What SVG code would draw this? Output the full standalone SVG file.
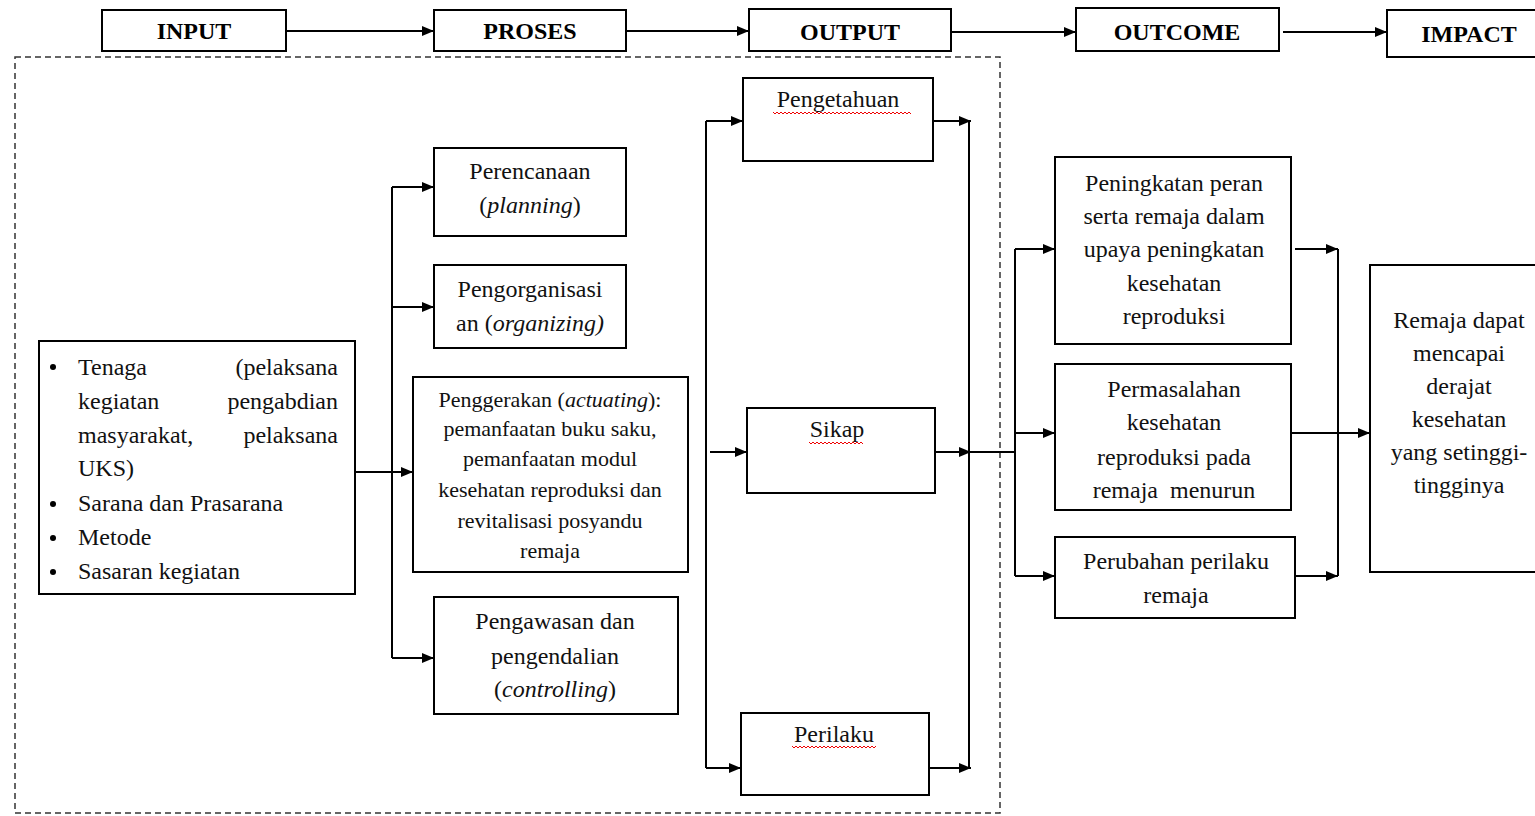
<svg xmlns="http://www.w3.org/2000/svg" width="1535" height="816" viewBox="0 0 1535 816">
<defs>
<marker id="ah" markerUnits="userSpaceOnUse" markerWidth="14" markerHeight="12" refX="12" refY="5" orient="auto">
<path d="M0,0 L12,5 L0,10 z" fill="#000"/>
</marker>
<style>
.box{fill:#fff;stroke:#000;stroke-width:2}
.hd{font-family:"Liberation Serif",serif;font-weight:bold;font-size:24px;text-anchor:middle;fill:#000}
.t{font-family:"Liberation Serif",serif;font-size:24px;fill:#111}
.c{text-anchor:middle}
.sm{font-size:22px}
.e{text-anchor:end}
.con path{fill:none;stroke:#000;stroke-width:2}
.arr{marker-end:url(#ah)}
.sp{fill:none;stroke:#e00;stroke-width:1}
</style>
</defs>
<rect width="1535" height="816" fill="#fff"/>
<rect x="15" y="57" width="985" height="756" fill="none" stroke="#333" stroke-width="1.5" stroke-dasharray="6 4"/>

<g id="h-input"><rect class="box" x="102" y="10" width="184" height="41"/><text class="hd" x="194" y="39">INPUT</text></g>
<g id="h-proses"><rect class="box" x="434" y="10" width="192" height="41"/><text class="hd" x="530" y="39">PROSES</text></g>
<g id="h-output"><rect class="box" x="749" y="9" width="202" height="42"/><text class="hd" x="850" y="40">OUTPUT</text></g>
<g id="h-outcome"><rect class="box" x="1076" y="8" width="203" height="43"/><text class="hd" x="1177" y="40">OUTCOME</text></g>
<g id="h-impact"><rect class="box" x="1387" y="10" width="155" height="47"/><text class="hd" x="1469" y="42">IMPACT</text></g>

<g id="input">
<rect class="box" x="39" y="341" width="316" height="253"/>
<circle cx="53" cy="367" r="3"/><circle cx="53" cy="504" r="3"/><circle cx="53" cy="538" r="3"/><circle cx="53" cy="572" r="3"/>
<text class="t" x="78" y="375">Tenaga</text><text class="t e" x="338" y="375">(pelaksana</text>
<text class="t" x="78" y="409">kegiatan</text><text class="t e" x="338" y="409">pengabdian</text>
<text class="t" x="78" y="443">masyarakat,</text><text class="t e" x="338" y="443">pelaksana</text>
<text class="t" x="78" y="476">UKS)</text>
<text class="t" x="78" y="511">Sarana dan Prasarana</text>
<text class="t" x="78" y="545">Metode</text>
<text class="t" x="78" y="579">Sasaran kegiatan</text>
</g>

<g id="p-planning"><rect class="box" x="434" y="148" width="192" height="88"/>
<text class="t c" x="530" y="179">Perencanaan</text>
<text class="t c" x="530" y="213">(<tspan font-style="italic">planning</tspan>)</text></g>
<g id="p-organizing"><rect class="box" x="434" y="265" width="192" height="83"/>
<text class="t c" x="530" y="297">Pengorganisasi</text>
<text class="t c" x="530" y="331">an (<tspan font-style="italic">organizing)</tspan></text></g>
<g id="p-actuating"><rect class="box" x="413" y="377" width="275" height="195"/>
<text class="t c sm" x="550" y="407">Penggerakan (<tspan font-style="italic">actuating</tspan>):</text>
<text class="t c sm" x="550" y="436">pemanfaatan buku saku,</text>
<text class="t c sm" x="550" y="466">pemanfaatan modul</text>
<text class="t c sm" x="550" y="497">kesehatan reproduksi dan</text>
<text class="t c sm" x="550" y="528">revitalisasi posyandu</text>
<text class="t c sm" x="550" y="558">remaja</text></g>
<g id="p-controlling"><rect class="box" x="434" y="597" width="244" height="117"/>
<text class="t c" x="555" y="629">Pengawasan dan</text>
<text class="t c" x="555" y="664">pengendalian</text>
<text class="t c" x="555" y="697">(<tspan font-style="italic">controlling</tspan>)</text></g>

<g id="o-pengetahuan"><rect class="box" x="743" y="78" width="190" height="83"/>
<text class="t c" x="838" y="107">Pengetahuan</text>
<path class="sp" d="M773,112 l2,2 l2,-2 l2,2 l2,-2 l2,2 l2,-2 l2,2 l2,-2 l2,2 l2,-2 l2,2 l2,-2 l2,2 l2,-2 l2,2 l2,-2 l2,2 l2,-2 l2,2 l2,-2 l2,2 l2,-2 l2,2 l2,-2 l2,2 l2,-2 l2,2 l2,-2 l2,2 l2,-2 l2,2 l2,-2 l2,2 l2,-2 l2,2 l2,-2 l2,2 l2,-2 l2,2 l2,-2 l2,2 l2,-2 l2,2 l2,-2 l2,2 l2,-2 l2,2 l2,-2 l2,2 l2,-2 l2,2 l2,-2 l2,2 l2,-2 l2,2 l2,-2 l2,2 l2,-2 l2,2 l2,-2 l2,2 l2,-2 l2,2 l2,-2 l2,2 l2,-2 l2,2 l2,-2 l2,2"/></g>
<g id="o-sikap"><rect class="box" x="747" y="408" width="188" height="85"/>
<text class="t c" x="837" y="437">Sikap</text>
<path class="sp" d="M809,442 l2,2 l2,-2 l2,2 l2,-2 l2,2 l2,-2 l2,2 l2,-2 l2,2 l2,-2 l2,2 l2,-2 l2,2 l2,-2 l2,2 l2,-2 l2,2 l2,-2 l2,2 l2,-2 l2,2 l2,-2 l2,2 l2,-2 l2,2 l2,-2 l2,2"/></g>
<g id="o-perilaku"><rect class="box" x="741" y="713" width="188" height="82"/>
<text class="t c" x="834" y="742">Perilaku</text>
<path class="sp" d="M792,746 l2,2 l2,-2 l2,2 l2,-2 l2,2 l2,-2 l2,2 l2,-2 l2,2 l2,-2 l2,2 l2,-2 l2,2 l2,-2 l2,2 l2,-2 l2,2 l2,-2 l2,2 l2,-2 l2,2 l2,-2 l2,2 l2,-2 l2,2 l2,-2 l2,2 l2,-2 l2,2 l2,-2 l2,2 l2,-2 l2,2 l2,-2 l2,2 l2,-2 l2,2 l2,-2 l2,2 l2,-2 l2,2 l2,-2"/></g>

<g id="oc-peran"><rect class="box" x="1055" y="157" width="236" height="187"/>
<text class="t c" x="1174" y="191">Peningkatan peran</text>
<text class="t c" x="1174" y="224">serta remaja dalam</text>
<text class="t c" x="1174" y="257">upaya peningkatan</text>
<text class="t c" x="1174" y="291">kesehatan</text>
<text class="t c" x="1174" y="324">reproduksi</text></g>
<g id="oc-masalah"><rect class="box" x="1055" y="364" width="236" height="146"/>
<text class="t c" x="1174" y="397">Permasalahan</text>
<text class="t c" x="1174" y="430">kesehatan</text>
<text class="t c" x="1174" y="465">reproduksi pada</text>
<text class="t c" x="1174" y="498" xml:space="preserve">remaja  menurun</text></g>
<g id="oc-perilaku"><rect class="box" x="1055" y="537" width="240" height="81"/>
<text class="t c" x="1176" y="569">Perubahan perilaku</text>
<text class="t c" x="1176" y="603">remaja</text></g>

<g id="impact"><rect class="box" x="1370" y="265" width="172" height="307"/>
<text class="t c" x="1459" y="328">Remaja dapat</text>
<text class="t c" x="1459" y="361">mencapai</text>
<text class="t c" x="1459" y="394">derajat</text>
<text class="t c" x="1459" y="427">kesehatan</text>
<text class="t c" x="1459" y="460">yang setinggi-</text>
<text class="t c" x="1459" y="493">tingginya</text></g>

<g id="connectors" class="con">
<path class="arr" d="M286,31 H434"/>
<path class="arr" d="M626,31 H749"/>
<path class="arr" d="M951,32 H1076"/>
<path class="arr" d="M1283,32 H1387"/>
<path class="arr" d="M355,472 H413"/>
<path d="M392,187 V658"/>
<path class="arr" d="M392,187 H434"/>
<path class="arr" d="M392,307 H434"/>
<path class="arr" d="M392,658 H434"/>
<path d="M706,121 V768"/>
<path class="arr" d="M706,121 H743"/>
<path class="arr" d="M706,768 H741"/>
<path class="arr" d="M710,452 H747"/>
<path class="arr" d="M933,121 H971"/>
<path class="arr" d="M935,452 H971"/>
<path class="arr" d="M929,768 H971"/>
<path d="M969,121 V768"/>
<path d="M969,452 H1015"/>
<path d="M1015,249 V576"/>
<path class="arr" d="M1015,249 H1055"/>
<path class="arr" d="M1015,433 H1055"/>
<path class="arr" d="M1015,576 H1055"/>
<path class="arr" d="M1295,249 H1338"/>
<path class="arr" d="M1295,576 H1338"/>
<path d="M1338,249 V576"/>
<path class="arr" d="M1291,433 H1370"/>
</g>
</svg>
